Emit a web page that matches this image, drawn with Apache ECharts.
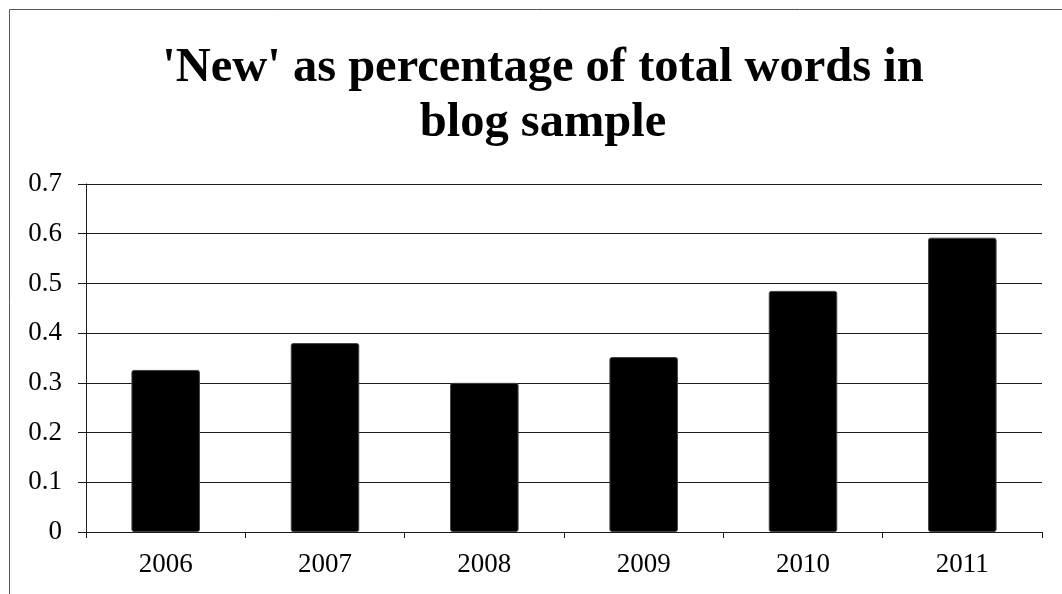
<!DOCTYPE html>
<html>
<head>
<meta charset="utf-8">
<script src="https://cdn.jsdelivr.net/npm/echarts@6/dist/echarts.min.js"></script>
<style>
  html, body { margin: 0; padding: 0; background: #fff; }
  #chart { width: 1062px; height: 594px; }
</style>
</head>
<body>
<div id="chart"></div>
<script>
// Share of the word 'New' in the blog sample, per year
const years = ['2006', '2007', '2008', '2009', '2010', '2011'];
const shares = [0.326, 0.380, 0.300, 0.352, 0.485, 0.592];
const yTicks = { min: 0, max: 0.7, step: 0.1 };

const chart = echarts.init(document.getElementById('chart'), null, { renderer: 'canvas' });

const ink = '#1a1a1a';
const serif = '"Liberation Serif", "DejaVu Serif", serif';

chart.setOption({
  backgroundColor: '#ffffff',
  animation: false,
  title: {
    text: "'New' as percentage of total words in\nblog sample",
    left: 543,
    textAlign: 'center',
    top: 41,
    padding: 0,
    textStyle: {
      fontFamily: serif,
      fontWeight: 'bold',
      fontSize: 48.5,
      lineHeight: 55,
      color: '#000'
    }
  },
  graphic: [{
    type: 'rect',
    shape: { x: 9.5, y: 9.5, width: 1100, height: 700 },
    style: { fill: 'none', stroke: '#555', lineWidth: 1 },
    silent: true
  }],
  grid: { left: 86, right: 20, top: 184, bottom: 62 },
  xAxis: {
    type: 'category',
    data: years,
    axisLine: { show: true, lineStyle: { color: ink, width: 1 } },
    axisTick: { show: true, length: 6, lineStyle: { color: ink } },
    axisLabel: {
      fontFamily: serif,
      fontSize: 27,
      color: '#000',
      margin: 19
    },
    splitLine: { show: false }
  },
  yAxis: {
    type: 'value',
    min: yTicks.min,
    max: yTicks.max,
    interval: yTicks.step,
    axisLine: { show: true, lineStyle: { color: ink, width: 1 } },
    axisTick: { show: true, length: 8, lineStyle: { color: ink } },
    axisLabel: {
      fontFamily: serif,
      fontSize: 27,
      color: '#000',
      margin: 24,
      padding: [6, 0, 0, 0],
      formatter: v => String(Math.round(v * 10) / 10)
    },
    splitLine: { show: true, lineStyle: { color: ink, width: 1 } }
  },
  series: [{
    type: 'bar',
    data: shares,
    barWidth: '43%',
    itemStyle: { color: '#000', borderColor: '#444', borderWidth: 1, borderRadius: 2 }
  }]
});
</script>
</body>
</html>
